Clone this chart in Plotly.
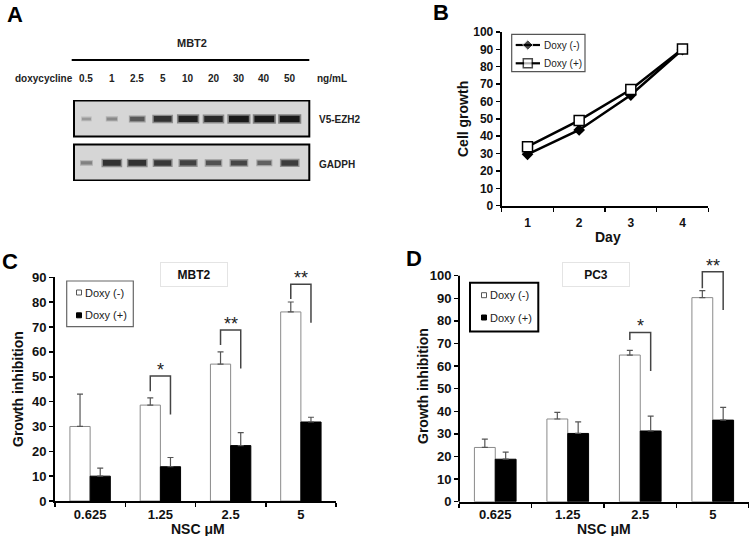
import plotly.graph_objects as go

W, H = 749, 536
FONT = "Liberation Sans"

# ---------------- data ----------------
# Panel A (western blot band intensities, 0..1)
dox_lanes = ["0.5", "1", "2.5", "5", "10", "20", "30", "40", "50"]
blot_rows = ["V5-EZH2", "GADPH"]
v5_intensity = [0.2, 0.3, 0.6, 0.85, 0.95, 0.9, 1.0, 1.0, 1.0]
gadph_intensity = [0.35, 0.85, 0.85, 0.8, 0.75, 0.65, 0.72, 0.55, 0.78]

# Panel B
series_names = ["Doxy (-)", "Doxy (+)"]
days = [1, 2, 3, 4]
growth_neg = [29.6, 43.6, 63.7, 89.9]
growth_pos = [34.0, 49.1, 66.9, 90.2]

# Panel C (MBT2)
nsc = ["0.625", "1.25", "2.5", "5"]
c_neg = [30.0, 38.6, 55.1, 76.1]
c_neg_err = [13.0, 2.9, 4.9, 4.0]
c_pos = [10.0, 13.8, 22.3, 31.8]
c_pos_err = [3.2, 3.7, 5.2, 1.9]
c_sig = ["", "*", "**", "**"]
c_bracket_top = [None, 50.3, 68.8, 87.2]
c_bracket_left = [None, 44.2, 62.8, 81.3]
c_bracket_right = [None, 34.8, 53.3, 71.7]

# Panel D (PC3)
d_neg = [24.0, 36.6, 64.9, 90.3]
d_neg_err = [3.7, 2.9, 2.1, 3.1]
d_pos = [18.8, 30.2, 31.3, 36.1]
d_pos_err = [3.1, 5.1, 6.6, 5.6]
d_sig = ["", "", "*", "**"]
d_bracket_top = [None, None, 74.9, 101.8]
d_bracket_left = [None, None, 71.5, 94.4]
d_bracket_right = [None, None, 57.8, 84.8]


def X(p):
    return p / W


def Y(p):
    return 1 - p / H


BARGAP = 0.425
BW = (1 - BARGAP) / 2

fig = go.Figure()
shapes = []
annotations = []


def ann(text, x, y, xref="paper", yref="paper", xanchor="center", yanchor="middle", **kw):
    d = dict(text=text, x=x, y=y, xref=xref, yref=yref, xanchor=xanchor,
             yanchor=yanchor, showarrow=False)
    d.update(kw)
    annotations.append(d)


# ---------------- Panel A: blot bands ----------------
lane_px = 235.3 / 9.26
row_vals = {"V5-EZH2": v5_intensity, "GADPH": gadph_intensity}
row_pos = {"V5-EZH2": 1, "GADPH": 0}
for rname in blot_rows:
    for i, v in enumerate(row_vals[rname]):
        half = (7 + 15 * v) / 2 / lane_px
        g = int(25 + 160 * (1 - v))
        # soft halo + dark core for a blot-like band
        fig.add_trace(go.Scatter(
            x=[i - half * 1.05, i + half * 1.05], y=[row_pos[rname], row_pos[rname]],
            mode="lines", line=dict(color=f"rgba({g},{g},{g},0.45)", width=3.5 + 6 * v),
            xaxis="x4", yaxis="y4", showlegend=False, hoverinfo="skip"))
        fig.add_trace(go.Scatter(
            x=[i - half * 0.9, i + half * 0.9], y=[row_pos[rname], row_pos[rname]],
            mode="lines", line=dict(color=f"rgb({g},{g},{g})", width=1.5 + 5 * v),
            xaxis="x4", yaxis="y4", showlegend=False, hoverinfo="skip"))

# ---------------- Panel B ----------------
b_styles = [
    dict(symbol="diamond", size=9, color="black"),
    dict(symbol="square", size=10, color="white", line=dict(color="black", width=1.5)),
]
for name, vals, mk in zip(series_names, (growth_neg, growth_pos), b_styles):
    fig.add_trace(go.Scatter(
        x=days, y=vals, name=name, mode="lines+markers",
        line=dict(color="black", width=2.5), marker=mk,
        xaxis="x", yaxis="y", showlegend=False))

# manual legend for B (drawn on a pixel-space overlay axis)
leg_rows_b = [45, 63.3]
shapes.append(dict(type="rect", xref="paper", yref="paper", x0=X(511.7), x1=X(585),
                   y0=Y(71.7), y1=Y(34.3), line=dict(color="#555", width=1.2)))
for k, name in enumerate(series_names):
    mk = dict(b_styles[k])
    mk["size"] = [0, mk["size"] - 1, 0]
    fig.add_trace(go.Scatter(
        x=[515.7, 527.8, 540], y=[leg_rows_b[k]] * 3, mode="lines+markers",
        line=dict(color="black", width=2.2), marker=mk,
        xaxis="x5", yaxis="y5", showlegend=False, hoverinfo="skip"))
    ann(name, X(541.5), Y(leg_rows_b[k]), xanchor="left",
        font=dict(family=FONT, size=10, color="#222"))

# ---------------- Panels C, D bars ----------------
xs = list(range(len(nsc)))


def add_bars(neg, neg_err, pos, pos_err, xa, ya):
    fig.add_trace(go.Bar(
        x=xs, y=neg, name=series_names[0],
        marker=dict(color="white", line=dict(color="#8a8a8a", width=1)),
        error_y=dict(type="data", array=neg_err, arrayminus=[0] * len(neg),
                     symmetric=False, color="#555", thickness=1.2, width=3),
        xaxis=xa, yaxis=ya, showlegend=False))
    fig.add_trace(go.Bar(
        x=xs, y=pos, name=series_names[1],
        marker=dict(color="black", line=dict(color="black", width=1)),
        error_y=dict(type="data", array=pos_err, arrayminus=[0] * len(pos),
                     symmetric=False, color="#555", thickness=1.2, width=3),
        xaxis=xa, yaxis=ya, showlegend=False))


add_bars(c_neg, c_neg_err, c_pos, c_pos_err, "x2", "y2")
add_bars(d_neg, d_neg_err, d_pos, d_pos_err, "x3", "y3")


def brackets(sig, top, left, right, xr, yr):
    for i, s in enumerate(sig):
        if not s:
            continue
        xl, xrr = i - BW / 2, i + BW / 2
        shapes.append(dict(
            type="path", xref=xr, yref=yr,
            path=f"M {xl},{left[i]} L {xl},{top[i]} L {xrr},{top[i]} L {xrr},{right[i]}",
            line=dict(color="#444", width=1.5)))
        ann(s, i, top[i], xref=xr, yref=yr, yshift=6,
            font=dict(family=FONT, size=18, color="#222"))


brackets(c_sig, c_bracket_top, c_bracket_left, c_bracket_right, "x2", "y2")
brackets(d_sig, d_bracket_top, d_bracket_left, d_bracket_right, "x3", "y3")

# D y-axis line only up to 100
shapes.append(dict(type="line", xref="x3 domain", yref="y3", x0=0, x1=0, y0=0, y1=100,
                   line=dict(color="black", width=2)))

# ---------------- Panel A decorations ----------------
bold10 = dict(family=FONT, size=10, color="#222", weight="bold")
for rname in blot_rows:
    r = row_pos[rname]
    shapes.append(dict(type="rect", xref="x4 domain", yref="y4", x0=0, x1=1,
                       y0=r - 0.40, y1=r + 0.42, line=dict(color="black", width=2),
                       fillcolor="#d6d6d6", layer="below"))
    ann(rname, X(317), r, yref="y4", xanchor="left", yshift=-1 if r else -2, font=bold10)
shapes.append(dict(type="line", xref="paper", yref="paper", x0=X(71.7), x1=X(309.3),
                   y0=Y(60), y1=Y(60), line=dict(color="black", width=2.2)))
ann("MBT2", X(192), Y(43), font=dict(family=FONT, size=11, color="#222", weight="bold"))
ann("doxycycline", X(13), Y(79), xanchor="left", font=bold10)
for i, lab in enumerate(dox_lanes):
    ann(lab, i, Y(79), xref="x4", font=bold10)
ann("ng/mL", X(331.7), Y(79), font=bold10)

# ---------------- panel letters / titles ----------------
for lab, (lx, ly) in {"A": (15, 14), "B": (441, 12.5), "C": (10, 261), "D": (414, 259)}.items():
    ann(lab, X(lx), Y(ly), font=dict(family=FONT, size=22, color="black", weight="bold"))

bold14 = dict(family=FONT, size=14, color="#111", weight="bold")
ann("Cell growth", X(463), Y(119), textangle=-90, font=bold14)
ann("Day", X(608), Y(236.5), font=bold14)
ann("Growth inhibition", X(18), Y(389), textangle=-90, font=bold14)
ann("NSC \u03bcM", X(198), Y(528.5), font=bold14)
ann("Growth inhibition", X(423), Y(386), textangle=-90, font=bold14)
ann("NSC \u03bcM", X(604), Y(528.5), font=bold14)

# sub-panel title boxes
for txt, cx in (("MBT2", 194), ("PC3", 595.5)):
    ann(txt, X(cx), Y(274.5), width=64, height=21, borderpad=1,
        bordercolor="#e4e4e4", borderwidth=1, bgcolor="white",
        font=dict(family=FONT, size=12, color="#111", weight="bold"))

# manual legends for C and D
for (bx0, by0, bx1, by1, bcol, bw, sx, ys, tx) in (
        (66.7, 281, 133.3, 326.7, "#666", 1.2, 79, (292.5, 315.3), 83),
        (470, 282.7, 538.3, 331.5, "black", 2, 484, (295.2, 317.5), 488)):
    shapes.append(dict(type="rect", xref="paper", yref="paper", x0=X(bx0), x1=X(bx1),
                       y0=Y(by1), y1=Y(by0), line=dict(color=bcol, width=bw),
                       fillcolor="white", layer="below"))
    for k, name in enumerate(series_names):
        fill = "white" if k == 0 else "black"
        shapes.append(dict(type="rect", xref="paper", yref="paper",
                           x0=X(sx - 2.5), x1=X(sx + 2.5), y0=Y(ys[k] + 2.5), y1=Y(ys[k] - 2.5),
                           line=dict(color="#555" if k == 0 else "black", width=1), fillcolor=fill))
        ann(name, X(tx), Y(ys[k]), xanchor="left", font=dict(family=FONT, size=11, color="#222"))

# ---------------- axes ----------------
tickfont = dict(family=FONT, size=12, color="#111", weight="bold")
tickfont_cd = dict(family=FONT, size=13, color="#111", weight="bold")


def yax(domain, rng, dtick, font, anchor, showline=True, top=None):
    return dict(domain=domain, range=rng, anchor=anchor, showgrid=False, zeroline=False,
                showline=showline, linecolor="black", linewidth=2,
                ticks="outside", ticklen=4, tickwidth=1.5, tickcolor="black",
                tickmode="array", tickvals=list(range(0, (top or rng[1]) + 1, dtick)),
                tickfont=font, fixedrange=True, automargin=False)


def xax(domain, positions, labels, font, anchor, ticklen=4):
    bounds = [p - 0.5 for p in positions] + [positions[-1] + 0.5]
    return dict(domain=domain, range=[bounds[0], bounds[-1]], anchor=anchor,
                showgrid=False, zeroline=False, showline=True, linecolor="black",
                linewidth=2, ticks="outside", ticklen=ticklen, tickcolor="rgba(0,0,0,0)",
                tickmode="array", tickvals=positions, ticktext=labels, tickfont=font,
                minor=dict(tickmode="array", tickvals=bounds, ticks="outside",
                           ticklen=4, tickwidth=1.5, tickcolor="black"),
                fixedrange=True, automargin=False)


fig.update_layout(
    width=W, height=H, margin=dict(l=0, r=0, t=0, b=0, pad=0, autoexpand=False),
    paper_bgcolor="white", plot_bgcolor="rgba(0,0,0,0)",
    font=dict(family=FONT, color="#111"),
    barmode="group", bargap=BARGAP, bargroupgap=0, showlegend=False,
    xaxis=xax([X(501.7), X(708.3)], days, [str(d) for d in days], tickfont, "y", ticklen=5),
    yaxis=yax([Y(205.7), Y(32)], [0, 100], 10, tickfont, "x"),
    xaxis2=xax([X(55), X(336)], xs, nsc, tickfont_cd, "y2", ticklen=0),
    yaxis2=yax([Y(501), Y(277.4)], [0, 90], 10, tickfont_cd, "x2"),
    xaxis3=xax([X(459), X(749)], xs, nsc, tickfont_cd, "y3", ticklen=0),
    yaxis3=yax([Y(501.7), Y(259.9)], [0, 107], 10, tickfont_cd, "x3", showline=False, top=100),
    xaxis4=dict(domain=[X(74), X(309.3)], range=[-0.49, 8.77], visible=False,
                anchor="y4", fixedrange=True),
    yaxis4=dict(domain=[Y(181), Y(100)], range=[-0.41, 1.43], visible=False,
                anchor="x4", fixedrange=True),
    xaxis5=dict(domain=[0, 1], range=[0, W], visible=False, anchor="y5", fixedrange=True),
    yaxis5=dict(domain=[0, 1], range=[H, 0], visible=False, anchor="x5", fixedrange=True),
    shapes=shapes,
    annotations=annotations,
)

fig.write_html("out.html", config={"displayModeBar": False, "staticPlot": True},
               post_script="document.body.style.margin='0';")
